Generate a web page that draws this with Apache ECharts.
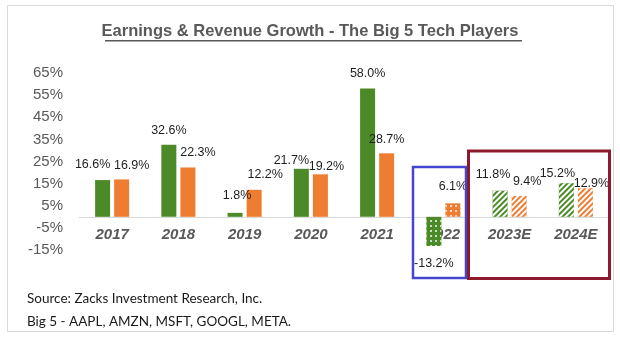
<!DOCTYPE html>
<html>
<head>
<meta charset="utf-8">
<script src="https://cdn.jsdelivr.net/npm/echarts@6/dist/echarts.min.js"></script>
<style>
html,body{margin:0;padding:0;background:#fff;}
#chart{width:620px;height:337px;}
</style>
</head>
<body>
<div id="chart"></div>
<script>
// ---- data ----
const categories = ['2017', '2018', '2019', '2020', '2021', '2022', '2023E', '2024E'];
const earningsGrowth = [16.6, 32.6, 1.8, 21.7, 58.0, -13.2, 11.8, 15.2];
const revenueGrowth = [16.9, 22.3, 12.2, 19.2, 28.7, 6.1, 9.4, 12.9];
const yMin = -15, yMax = 65, yStep = 10;
const titleText = 'Earnings & Revenue Growth - The Big 5 Tech Players';
const sourceLines = ['Source: Zacks Investment Research, Inc.', 'Big 5 - AAPL, AMZN, MSFT, GOOGL, META.'];

// ---- styling helpers (not data) ----
const barKind = ['solid', 'solid', 'solid', 'solid', 'solid', 'dots', 'stripes', 'stripes'];
const greenLabelShift = [[-10, 16], [0, 15], [2, 18], [-10, 9], [0, 15], [0, 18], [-7, 17], [-9, 10]];
const orangeLabelShift = [[10, 14], [10, 15], [11, 16], [6, 8], [0, 14], [0, 17], [8, 15], [6, 5]];

const GREEN = '#4b8a27';
const ORANGE = '#ef7d31';

function decalFor(kind) {
  if (kind === 'dots') {
    return { symbol: 'circle', symbolSize: 1, color: 'rgba(255,255,255,0.95)', dashArrayX: [2, 3], dashArrayY: [2, 3] };
  }
  if (kind === 'stripes') {
    return { symbol: 'rect', symbolSize: 1, color: '#ffffff', dashArrayX: [1, 0], dashArrayY: [2, 2], rotation: -Math.PI / 4 };
  }
  return null;
}

function buildSeriesData(values, shifts) {
  return values.map((v, i) => {
    const neg = v < 0;
    const [dx, h] = shifts[i];
    const item = {
      value: v,
      label: {
        position: neg ? 'bottom' : 'top',
        distance: 0,
        offset: [dx, neg ? (h - 7) : -(h - 7)]
      }
    };
    const d = decalFor(barKind[i]);
    if (d) item.itemStyle = { decal: d };
    return item;
  });
}

const labelStyle = {
  show: true,
  formatter: p => p.value.toFixed(1) + '%',
  fontFamily: 'Liberation Sans, Arial, sans-serif',
  fontSize: 12.5,
  color: '#1e1e1e'
};

const chart = echarts.init(document.getElementById('chart'), null, { renderer: 'canvas' });

// offset that places the category labels just under the zero line
const plotTop = 73, plotBottomPad = 87, plotH = 337 - plotTop - plotBottomPad;
const zeroOffset = -plotH * (0 - yMin) / (yMax - yMin);

const option = {
  animation: false,
  backgroundColor: '#ffffff',
  grid: { left: 79, right: 11, top: plotTop, bottom: plotBottomPad },
  xAxis: {
    type: 'category',
    data: categories,
    offset: zeroOffset,
    axisLine: { show: false, onZero: false },
    axisTick: { show: false },
    axisLabel: {
      margin: 11,
      fontFamily: 'Liberation Sans, Arial, sans-serif',
      fontSize: 15,
      fontWeight: 'bold',
      fontStyle: 'italic',
      color: '#595959'
    }
  },
  yAxis: {
    type: 'value',
    min: yMin,
    max: yMax,
    interval: yStep,
    axisLine: { show: false },
    axisTick: { show: false },
    splitLine: { show: false },
    axisLabel: {
      margin: 16,
      formatter: v => v + '%',
      fontFamily: 'Liberation Sans, Arial, sans-serif',
      fontSize: 15,
      color: '#595959'
    }
  },
  series: [
    {
      name: 'Earnings Growth',
      type: 'bar',
      barWidth: 15,
      barGap: '27%',
      itemStyle: { color: GREEN },
      label: labelStyle,
      data: buildSeriesData(earningsGrowth, greenLabelShift),
      markLine: {
        silent: true,
        symbol: 'none',
        z: 1,
        label: { show: false },
        lineStyle: { color: '#d9d9d9', width: 1, type: 'solid' },
        data: [{ yAxis: 0 }]
      }
    },
    {
      name: 'Revenue Growth',
      type: 'bar',
      barWidth: 15,
      barGap: '27%',
      itemStyle: { color: ORANGE },
      label: labelStyle,
      data: buildSeriesData(revenueGrowth, orangeLabelShift)
    }
  ],
  graphic: [
    {
      type: 'rect', z: -1, silent: true,
      shape: { x: 7.5, y: 5.5, width: 606, height: 326 },
      style: { fill: 'none', stroke: '#d9d9d9', lineWidth: 1 }
    },
    {
      type: 'text', left: 'center', top: 23, silent: true,
      style: {
        text: titleText,
        fontFamily: 'Liberation Sans, Arial, sans-serif',
        fontSize: 16.5,
        fontWeight: 'bold',
        fill: '#595959'
      }
    },
    {
      type: 'rect', silent: true,
      shape: { x: 105, y: 40, width: 417, height: 1.5 },
      style: { fill: '#595959' }
    },
    {
      type: 'rect', silent: true, z: 10,
      shape: { x: 413, y: 167, width: 53, height: 111 },
      style: { fill: 'none', stroke: '#4347d0', lineWidth: 2.5 }
    },
    {
      type: 'rect', silent: true, z: 10,
      shape: { x: 468.5, y: 151, width: 141, height: 127.5 },
      style: { fill: 'none', stroke: '#8c1a2c', lineWidth: 3 }
    },
    {
      type: 'text', left: 27, top: 287, silent: true,
      style: {
        text: sourceLines.join('\n'),
        fontFamily: 'Lato, sans-serif',
        fontSize: 13.5,
        lineHeight: 23,
        fill: '#1a1a1a'
      }
    }
  ]
};

chart.setOption(option);
</script>
</body>
</html>
